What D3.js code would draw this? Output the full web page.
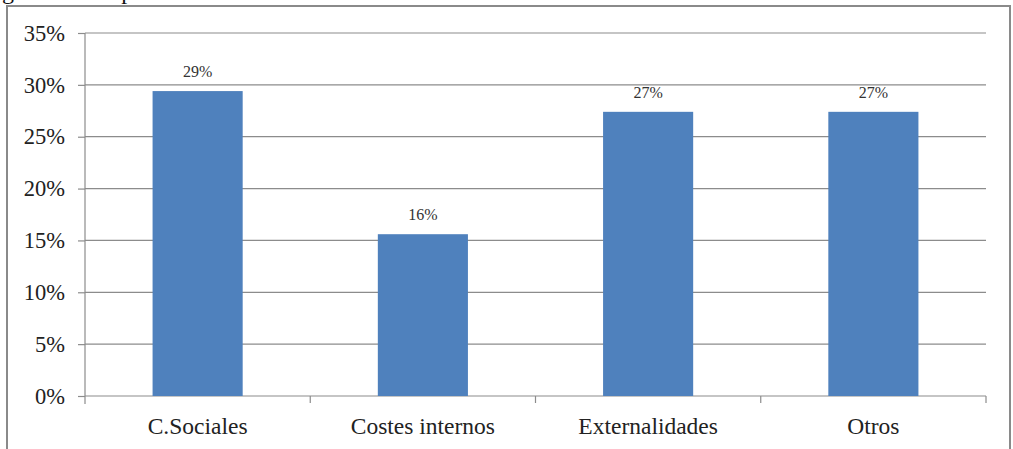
<!DOCTYPE html>
<html>
<head>
<meta charset="utf-8">
<script src="https://cdn.jsdelivr.net/npm/d3@7"></script>
<style>
  html, body { margin: 0; padding: 0; background: #fff; }
  svg { display: block; }
  svg text { font-family: "Liberation Serif", "Times New Roman", serif !important; }
</style>
</head>
<body>
<svg id="chart" width="1013" height="449"></svg>
<script>
const categories = ["C.Sociales", "Costes internos", "Externalidades", "Otros"];
const values = [0.294, 0.156, 0.274, 0.274];
const valueLabels = ["29%", "16%", "27%", "27%"];
const yTicks = [0, 0.05, 0.10, 0.15, 0.20, 0.25, 0.30, 0.35];
const caption = "Figura 5. Comparativa de costes";

const SERIF = "'Liberation Serif', 'Times New Roman', serif";
const svg = d3.select("#chart");
const W = 1013, H = 449;
const m = { left: 85, right: 27, top: 33, bottom: 53 };

// caption (cut off at the top, as in the reference)
svg.append("text")
  .attr("x", -18).attr("y", -1)
  .style("font-family", SERIF)
  .attr("font-size", 24).attr("fill", "#111")
  .text(caption);

// outer border
svg.append("rect")
  .attr("x", 7).attr("y", 6).attr("width", 1003).attr("height", 450)
  .attr("fill", "#fff").attr("stroke", "#8a8a8a").attr("stroke-width", 2);

const x = d3.scaleBand().domain(categories)
  .range([m.left, W - m.right]).paddingInner(0.6).paddingOuter(0.3);
const xOuter = d3.scaleBand().domain(categories).range([m.left, W - m.right]);
const y = d3.scaleLinear().domain([0, 0.35]).range([H - m.bottom, m.top]);

// gridlines
svg.append("g").selectAll("line").data(yTicks.filter(d => d > 0)).join("line")
  .attr("x1", m.left).attr("x2", W - m.right)
  .attr("y1", d => y(d)).attr("y2", d => y(d))
  .attr("stroke", "#8c8c8c").attr("stroke-width", 1.2);

// y axis
const yAxis = svg.append("g").attr("transform", `translate(${m.left},0)`)
  .call(d3.axisLeft(y).tickValues(yTicks).tickFormat(d3.format(".0%")).tickSize(7).tickPadding(13));
yAxis.attr("font-family", null);
yAxis.select(".domain").attr("stroke", "#8c8c8c").attr("stroke-width", 1.2)
  .attr("d", `M0,${y(0.35)}V${y(0) + 8}`);
yAxis.selectAll(".tick line").attr("stroke", "#8c8c8c").attr("stroke-width", 1.2);
yAxis.selectAll(".tick text")
  .style("font-family", SERIF)
  .attr("font-size", 22.5).attr("fill", "#222");

// x axis
const xAxis = svg.append("g").attr("transform", `translate(0,${y(0)})`)
  .call(d3.axisBottom(xOuter).tickSize(0).tickPadding(21));
xAxis.attr("font-family", null);
xAxis.select(".domain").attr("stroke", "#8c8c8c").attr("stroke-width", 1.2)
  .attr("d", `M${m.left},0H${W - m.right}`);
xAxis.selectAll(".tick text")
  .style("font-family", SERIF)
  .attr("font-size", 23.5).attr("fill", "#222");
// category boundary ticks
const bounds = categories.map(c => xOuter(c)).concat([xOuter(categories[categories.length - 1]) + xOuter.bandwidth()]);
xAxis.append("g").selectAll("line").data(bounds.slice(1)).join("line")
  .attr("x1", d => d).attr("x2", d => d).attr("y1", 0).attr("y2", 7)
  .attr("stroke", "#8c8c8c").attr("stroke-width", 1.2);

// bars
svg.append("g").selectAll("rect").data(values).join("rect")
  .attr("x", (d, i) => x(categories[i]))
  .attr("width", x.bandwidth())
  .attr("y", d => y(d))
  .attr("height", d => y(0) - y(d))
  .attr("fill", "#4F81BD");

// value labels
svg.append("g").selectAll("text").data(values).join("text")
  .attr("x", (d, i) => x(categories[i]) + x.bandwidth() / 2)
  .attr("y", d => y(d) - 14)
  .attr("text-anchor", "middle")
  .style("font-family", SERIF)
  .attr("font-size", 16).attr("fill", "#333")
  .text((d, i) => valueLabels[i]);
</script>
</body>
</html>
